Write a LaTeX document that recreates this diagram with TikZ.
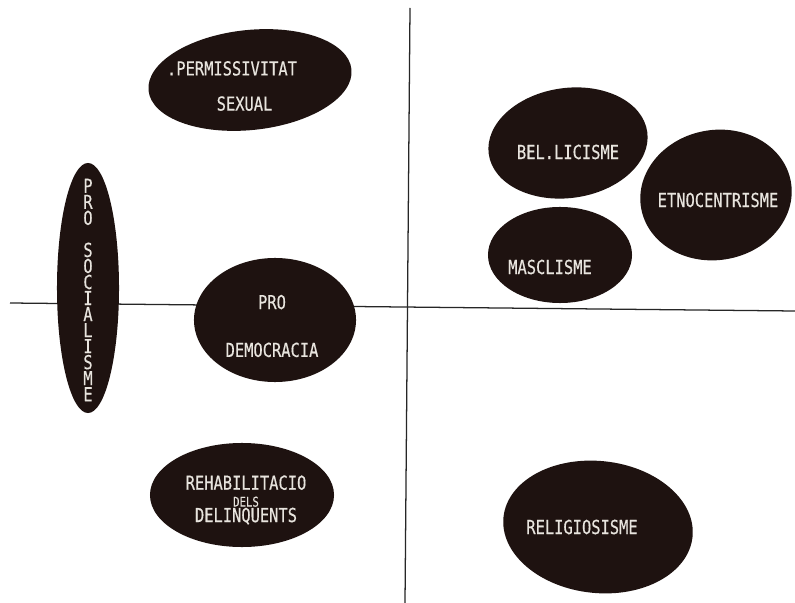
\documentclass[tikz,border=0pt]{standalone}
\usepackage{fontspec}
\usetikzlibrary{shapes.geometric}
\newfontfamily\plotfont[FakeStretch=0.8,FakeBold=0.4]{DejaVu Sans Mono}
\definecolor{blobink}{HTML}{1E1210}
\definecolor{chalk}{HTML}{E8E4DE}

\begin{document}
\begin{tikzpicture}[
    x=0.025cm,
    y=-0.025cm,
    blob/.style={
        ellipse,
        fill=blobink,
        inner sep=0pt
    },
    tag/.style={
        text=chalk,
        font=\plotfont\fontsize{13.7}{16}\selectfont,
        align=center,
        inner sep=0pt
    },
    axis/.style={
        line width=0.9pt,
        black!85
    }
]
\useasboundingbox[fill=white] (0,0) rectangle (795,603);

% Eixos
\coordinate (ytop) at (410,8);
\coordinate (ybot) at (405,603);
\coordinate (xleft) at (10,303);
\coordinate (xright) at (795,311);
\draw[axis] (ytop) -- (ybot);
\draw[axis] (xleft) -- (xright);

% Quadrant esquerre
\node[blob, rotate=6, minimum width=5.1cm, minimum height=2.5cm] (perm) at (250,80) {};
\node[tag] (perm-t) at (232,86) {.PERMISSIVITAT\\[9pt]\hspace*{1.3em}SEXUAL};

\node[blob, minimum width=1.55cm, minimum height=6.25cm] (soc) at (88,288) {};
\node[tag, font=\plotfont\fontsize{13.7}{11.4}\selectfont] (soc-t) at (88,290)
    {P\\R\\O\\[11.4pt]S\\O\\C\\I\\A\\L\\I\\S\\M\\E};

\node[blob, minimum width=4.05cm, minimum height=3.1cm] (dem) at (275,320) {};
\node[tag] (dem-t) at (272,326) {PRO\\[18pt]DEMOCRACIA};

\node[blob, minimum width=4.6cm, minimum height=2.6cm] (rehab) at (242,495) {};
\node[tag] (rehab-t) at (246,500)
    {REHABILITACIO\\[-4pt]{\fontsize{9.5}{9.5}\selectfont DELS}\\[-5pt]DELINQUENTS};

% Quadrant dret
\node[blob, rotate=8, minimum width=4cm, minimum height=2.75cm] (bel) at (568,143) {};
\node[tag] (bel-t) at (568,152) {BEL.LICISME};

\node[blob, minimum width=3.6cm, minimum height=2.4cm] (masc) at (560,255) {};
\node[tag] (masc-t) at (550,267) {MASCLISME};

\node[blob, rotate=10, minimum width=3.8cm, minimum height=3.25cm] (etno) at (716,195) {};
\node[tag] (etno-t) at (718,200) {ETNOCENTRISME};

\node[blob, rotate=-6, minimum width=4.75cm, minimum height=3.3cm] (relig) at (598,527) {};
\node[tag] (relig-t) at (582,527) {RELIGIOSISME};

\end{tikzpicture}
\end{document}
